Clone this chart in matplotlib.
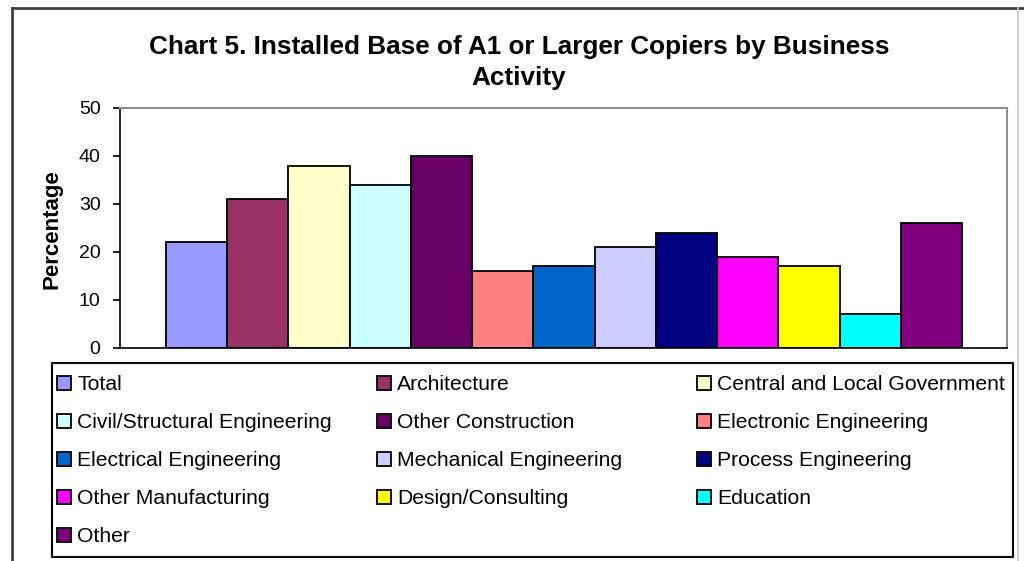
import matplotlib
matplotlib.use("Agg")
import matplotlib.pyplot as plt
from matplotlib.patches import Rectangle
from matplotlib.lines import Line2D

categories = ["Total", "Architecture", "Central and Local Government",
              "Civil/Structural Engineering", "Other Construction",
              "Electronic Engineering", "Electrical Engineering",
              "Mechanical Engineering", "Process Engineering",
              "Other Manufacturing", "Design/Consulting", "Education", "Other"]
values = [22, 31, 38, 34, 40, 16, 17, 21, 24, 19, 17, 7, 26]
colors = ["#9999FF", "#993366", "#FFFFCC", "#CCFFFF", "#660066", "#FF8080",
          "#0066CC", "#CCCCFF", "#000080", "#FF00FF", "#FFFF00", "#00FFFF",
          "#800080"]
yticks = [0, 10, 20, 30, 40, 50]
title = "Chart 5. Installed Base of A1 or Larger Copiers by Business\nActivity"
ylabel = "Percentage"

plt.rcParams['font.family'] = ['Liberation Sans', 'DejaVu Sans']

W, H = 1024, 561
fig = plt.figure(figsize=(W / 100, H / 100), dpi=100)

def fx(px):
    return px / W

def fy(py):
    return 1 - py / H

ax = fig.add_axes([fx(120), fy(348), fx(1007) - fx(120), fy(108) - fy(348)])
bars = []
for i, (c, v, col) in enumerate(zip(categories, values, colors)):
    b = ax.bar(i, v, width=1.0, color=col, edgecolor="black", linewidth=1.3, label=c)
    bars.append(b)

ax.set_xlim(-1.252, 13.235)
ax.set_ylim(0, 50)
ax.set_yticks(yticks)
ax.set_xticks([])
ax.tick_params(axis='y', direction='out', length=5, width=1.2, labelsize=14, pad=9)
for s in ['top', 'right']:
    ax.spines[s].set_color('#909090')
    ax.spines[s].set_linewidth(1.5)
for s in ['left', 'bottom']:
    ax.spines[s].set_color('black')
    ax.spines[s].set_linewidth(1.2)

fig.text(fx(519), fy(62.5), title, ha='center', va='center', fontsize=18.8,
         fontweight='bold', linespacing=1.38)
fig.text(fx(52), fy(229), ylabel, rotation=90, ha='center', va='center',
         fontsize=16, fontweight='bold')

# legend frame
fig.patches.append(Rectangle((fx(52), fy(557)), fx(1013) - fx(52), fy(363) - fy(557),
                             transform=fig.transFigure, fill=False,
                             edgecolor='black', linewidth=1.5))
# outer frame (left and top dark, right light)
fig.add_artist(Line2D([fx(12), fx(12)], [fy(8), fy(570)], transform=fig.transFigure,
                      color='#404040', linewidth=2))
fig.add_artist(Line2D([fx(12), fx(1024)], [fy(8), fy(8)], transform=fig.transFigure,
                      color='#404040', linewidth=2))
fig.add_artist(Line2D([fx(1018), fx(1018)], [fy(8), fy(570)], transform=fig.transFigure,
                      color='#c8c8c8', linewidth=1.2))

cols = [[0, 3, 6, 9, 12], [1, 4, 7, 10], [2, 5, 8, 11]]
col_x = [57, 377, 697]
for cx, idxs in zip(col_x, cols):
    leg = fig.legend([bars[i] for i in idxs], [categories[i] for i in idxs],
                     loc='upper left', bbox_to_anchor=(fx(cx), fy(375)),
                     frameon=False, fontsize=15.2, borderpad=0, borderaxespad=0,
                     handlelength=0.65, handleheight=0.65, handletextpad=0.3,
                     labelspacing=0.9)

fig.savefig("out.png", dpi=100)
